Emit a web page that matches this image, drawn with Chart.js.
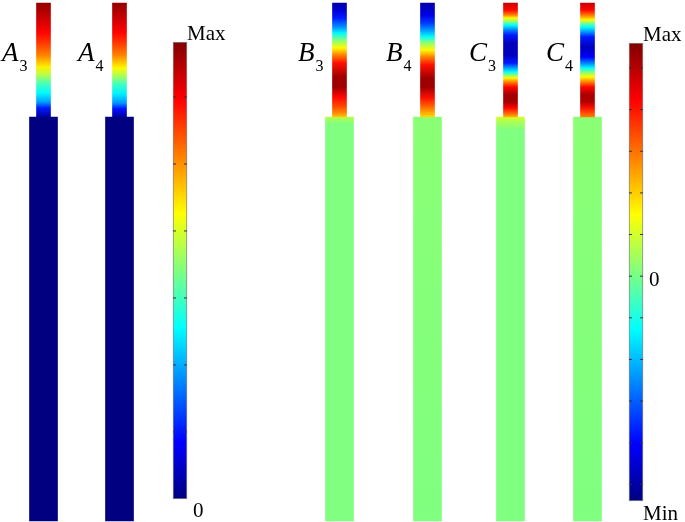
<!DOCTYPE html>
<html>
<head>
<meta charset="utf-8">
<script src="https://cdn.jsdelivr.net/npm/chart.js@4.4.1/dist/chart.umd.min.js"></script>
<style>
  html, body { margin: 0; padding: 0; background: #fff; }
  #wrap { width: 685px; height: 522px; position: relative; }
</style>
</head>
<body>
<div id="wrap"><canvas id="chart"></canvas></div>
<script>
// ── Strips (x = centre, heights in figure units, 0 = bottom edge) ──
const stripNames = ["A", "A", "B", "B", "C", "C"];
const stripSubs  = ["3", "4", "3", "4", "3", "4"];
const stripX     = [43.5, 119.5, 339.5, 427.5, 510.5, 587.5];
const baseRange  = [1, 405];     // wide lower section
const tipRange   = [405, 519];   // narrow upper section

// ── Field along the narrow section: h = height above the step, v = normalised field ──
const tipA3H = [114, 97, 84, 74, 62, 50, 42, 34, 24, 15, 9, 0];
const tipA3V = [0.98, 0.92, 0.87, 0.82, 0.75, 0.64, 0.55, 0.45, 0.37, 0.28, 0.15, 0.03];
const tipA4H = [114, 97, 84, 74, 62, 49, 41, 33, 23, 14, 8, 0];
const tipA4V = [0.98, 0.92, 0.87, 0.82, 0.75, 0.63, 0.54, 0.44, 0.36, 0.27, 0.14, 0.03];
const tipB3H = [114, 107, 99, 89, 84, 77, 69, 62, 54, 40, 30, 20, 10, 4, 0];
const tipB3V = [0.04, 0.08, 0.15, 0.28, 0.37, 0.50, 0.63, 0.75, 0.86, 0.97, 0.97, 0.87, 0.80, 0.74, 0.68];
const tipB4H = [114, 102, 94, 85, 80, 75, 67, 60, 52, 39, 30, 19, 9, 0];
const tipB4V = [0.04, 0.10, 0.18, 0.30, 0.38, 0.50, 0.63, 0.75, 0.86, 0.97, 0.97, 0.86, 0.76, 0.66];
const tipC3H = [114, 107, 102, 99, 95, 92, 87, 82, 74, 62, 54, 49, 45, 42, 39, 35, 30, 22, 15, 9, 4, 0];
const tipC3V = [0.93, 0.87, 0.75, 0.63, 0.50, 0.38, 0.25, 0.15, 0.06, 0.06, 0.15, 0.28, 0.38, 0.50, 0.63, 0.75, 0.87, 0.97, 0.96, 0.87, 0.78, 0.70];
const tipC4H = [114, 107, 102, 97, 94, 90, 85, 80, 70, 60, 54, 49, 45, 40, 35, 30, 22, 15, 9, 0];
const tipC4V = [0.93, 0.87, 0.76, 0.63, 0.50, 0.38, 0.27, 0.15, 0.06, 0.12, 0.25, 0.37, 0.50, 0.63, 0.75, 0.87, 0.96, 0.95, 0.86, 0.75];
const tipH = [tipA3H, tipA4H, tipB3H, tipB4H, tipC3H, tipC4H];
const tipV = [tipA3V, tipA4V, tipB3V, tipB4V, tipC3V, tipC4V];

// ── Field in the wide section: d = depth below the step ──
const baseD = [[0, 404], [0, 404], [0, 7, 404], [0, 404], [0, 5, 13, 404], [0, 404]];
const baseV = [[0, 0], [0, 0], [0.55, 0.5, 0.5], [0.51, 0.5], [0.59, 0.54, 0.5, 0.5], [0.51, 0.5]];

// ── Colour bars ──
const cbX      = [180, 636];
const cbSpan   = [[23, 480], [21, 479]];
const cbRange  = [[0, 6.82], [-5.4, 5.6]];
const cb1Ticks = [1, 2, 3, 4, 5, 6];
const cb2Ticks = [-5, -4, -3, -2, -1, 0, 1, 2, 3, 4, 5];
const cbTicks  = [cb1Ticks, cb2Ticks];
const cbTop    = ["Max", "Max"];
const cbBottom = ["0", "Min"];

// ── jet colour map ──
function jet(v) {
  const c = t => Math.round(255 * Math.max(0, Math.min(1, t)));
  return `rgb(${c(1.5 - Math.abs(4 * v - 3))},${c(1.5 - Math.abs(4 * v - 2))},${c(1.5 - Math.abs(4 * v - 1))})`;
}
const jetStops = [0, 0.125, 0.375, 0.625, 0.875, 1];

function cbValueH(i, v) {
  const [lo, hi] = cbRange[i];
  const [a, b] = cbSpan[i];
  return a + (v - lo) / (hi - lo) * (b - a);
}

function verticalGradient(chart, hTop, hBottom, stops) {
  const y = chart.scales.y;
  const pTop = y.getPixelForValue(hTop);
  const pBot = y.getPixelForValue(hBottom);
  const g = chart.ctx.createLinearGradient(0, pTop, 0, pBot);
  stops.forEach(([h, v]) => {
    const off = (y.getPixelForValue(h) - pTop) / (pBot - pTop);
    g.addColorStop(Math.max(0, Math.min(1, off)), jet(v));
  });
  return g;
}

function tipColor(c) {
  if (!c.chart.chartArea) return "#888";
  const i = c.dataIndex;
  const stops = tipH[i].map((h, k) => [tipRange[0] + h, tipV[i][k]]);
  return verticalGradient(c.chart, tipRange[1], tipRange[0], stops);
}

function baseColor(c) {
  if (!c.chart.chartArea) return "#888";
  const i = c.dataIndex;
  const stops = baseD[i].map((d, k) => [baseRange[1] - d, baseV[i][k]]);
  return verticalGradient(c.chart, baseRange[1], baseRange[0], stops);
}

function cbColor(c) {
  if (!c.chart.chartArea) return "#888";
  const [a, b] = cbSpan[c.dataIndex];
  const stops = jetStops.map(s => [a + s * (b - a), s]);
  return verticalGradient(c.chart, b, a, stops);
}

// ── Tick marks on both inner edges of each colour bar ──
const tickPoints = [];
cbTicks.forEach((ticks, i) => {
  ticks.forEach(v => {
    const h = cbValueH(i, v);
    tickPoints.push({ x: cbX[i] - 5.5, y: h }, { x: cbX[i] + 5.5, y: h });
  });
});

// ── Text labels ──
const SERIF = "'Liberation Serif', 'Times New Roman', serif";
const labelPlugin = {
  id: "fieldLabels",
  afterDatasetsDraw(chart) {
    const { ctx, scales: { x, y } } = chart;
    ctx.save();
    ctx.fillStyle = "#000";
    ctx.textAlign = "left";
    ctx.textBaseline = "alphabetic";
    stripNames.forEach((name, i) => {
      const lx = x.getPixelForValue(stripX[i] - 41.5);
      ctx.font = `italic 27px ${SERIF}`;
      ctx.fillText(name, lx, y.getPixelForValue(461));
      const w = ctx.measureText(name).width;
      ctx.font = `16px ${SERIF}`;
      ctx.fillText(stripSubs[i], lx + w + 1, y.getPixelForValue(451));
    });

    ctx.font = `21px ${SERIF}`;
    cbX.forEach((cx, i) => {
      const [a, b] = cbSpan[i];
      ctx.fillText(cbTop[i], x.getPixelForValue(cx + 7), y.getPixelForValue(b) - 2);
    });
    ctx.fillText(cbBottom[0], x.getPixelForValue(cbX[0] + 13), y.getPixelForValue(cbSpan[0][0]) + 18);
    ctx.fillText(cbBottom[1], x.getPixelForValue(cbX[1] + 7), y.getPixelForValue(cbSpan[1][0]) + 19);
    ctx.fillText("0", x.getPixelForValue(cbX[1] + 13), y.getPixelForValue(cbValueH(1, 0)) + 10);
    ctx.restore();
  },
};

new Chart(document.getElementById("chart"), {
  type: "bar",
  data: {
    datasets: [
      {
        type: "scatter",
        label: "ticks",
        data: tickPoints,
        pointStyle: "line",
        pointRadius: 1.5,
        pointHoverRadius: 1.5,
        borderWidth: 1,
        borderColor: "#333",
      },
      {
        label: "tip",
        data: stripX.map(x => ({ x, y: tipRange })),
        backgroundColor: tipColor,
        barThickness: 14,
      },
      {
        label: "base",
        data: stripX.map(x => ({ x, y: baseRange })),
        backgroundColor: baseColor,
        barThickness: 28,
      },
      {
        label: "colorbar",
        data: cbX.map((x, i) => ({ x, y: cbSpan[i] })),
        backgroundColor: cbColor,
        borderColor: "#888",
        borderWidth: 1,
        borderSkipped: false,
        barThickness: 14,
      },
    ],
  },
  options: {
    responsive: true,
    maintainAspectRatio: false,
    animation: false,
    grouped: false,
    layout: { padding: 0, autoPadding: false },
    scales: {
      x: { type: "linear", min: 0, max: 685, display: false, offset: false },
      y: { type: "linear", min: 0, max: 522, display: false },
    },
    plugins: {
      legend: { display: false },
      tooltip: { enabled: false },
    },
  },
  plugins: [labelPlugin],
});
</script>
</body>
</html>
